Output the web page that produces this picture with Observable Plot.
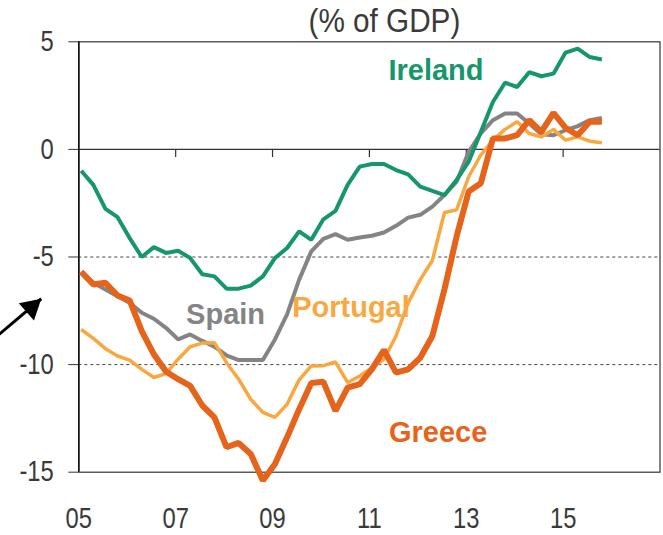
<!DOCTYPE html>
<html>
<head>
<meta charset="utf-8">
<script src="https://cdn.jsdelivr.net/npm/d3@7"></script>
<script src="https://cdn.jsdelivr.net/npm/@observablehq/plot@0.6"></script>
<style>
  html, body { margin: 0; padding: 0; background: #fff; }
  #chart svg { display: block; }
</style>
</head>
<body>
<div id="chart"></div>
<script>
// Quarterly periods 2005Q1 .. 2015Q4
const periods = d3.range(44).map(i => `${2005 + Math.floor(i / 4)}Q${(i % 4) + 1}`);

const ireland = [-0.99, -1.65, -2.76, -3.15, -4.12, -5.0, -4.54, -4.81, -4.71, -5.05,
  -5.8, -5.9, -6.47, -6.47, -6.33, -5.9, -5.05, -4.58, -3.81, -4.2,
  -3.25, -2.86, -1.65, -0.8, -0.68, -0.68, -0.96, -1.16, -1.73, -1.93,
  -2.12, -1.42, -0.57, 0.81, 2.2, 3.1, 2.9, 3.59, 3.4, 3.52,
  4.5, 4.68, 4.29, 4.18];
const spain = [-5.69, -6.2, -6.51, -6.82, -7.13, -7.59, -7.87, -8.29, -8.83, -8.6,
  -8.9, -9.17, -9.57, -9.79, -9.79, -9.79, -8.83, -7.67, -6.05, -4.74,
  -4.16, -3.94, -4.2, -4.09, -4.01, -3.86, -3.55, -3.17, -3.04, -2.66,
  -2.12, -1.5, -0.11, 0.74, 1.36, 1.67, 1.67, 1.2, 0.7, 0.66,
  0.89, 1.08, 1.36, 1.46];
const portugal = [-8.37, -8.78, -9.26, -9.6, -9.79, -10.22, -10.6, -10.42, -9.75, -9.17,
  -9.0, -8.98, -9.91, -10.68, -11.61, -12.22, -12.45, -11.84, -10.71, -10.06,
  -10.05, -9.88, -10.83, -10.53, -10.14, -9.75, -8.67, -7.13, -6.05, -5.16,
  -2.93, -2.81, -1.27, -0.26, 0.43, 0.93, 1.28, 0.74, 0.58, 0.93,
  0.43, 0.58, 0.38, 0.31];
const greece = [-5.69, -6.28, -6.2, -6.79, -7.02, -8.44, -9.52, -10.32, -10.68, -10.99,
  -11.9, -12.45, -13.84, -13.64, -14.15, -15.39, -14.62, -13.38, -12.07, -10.85,
  -10.8, -12.15, -11.07, -10.91, -10.22, -9.32, -10.37, -10.22, -9.68, -8.67,
  -6.5, -4.05, -1.96, -1.57, 0.51, 0.51, 0.66, 1.36, 0.81, 1.7,
  1.0, 0.66, 1.28, 1.28];

const countries = ["Ireland", "Spain", "Portugal", "Greece"];
const yTicks = [5, 0, -5, -10, -15];
const yGrid = [-5, -10];
const xTicks = [2005, 2007, 2009, 2011, 2013, 2015];
const xTickLabels = ["05", "07", "09", "11", "13", "15"];
const title = "(% of GDP)";

// annotation placements (data coordinates)
const labelPos = [
  {name: "Ireland", x: 2012.375, y: 3.67},
  {name: "Spain", x: 2008.03, y: -7.67},
  {name: "Portugal", x: 2010.62, y: -7.35},
  {name: "Greece", x: 2012.42, y: -13.18}
];
const arrowPts = [{x1: 2003.3, y1: -8.7, x2: 2004.225, y2: -6.94}];

const colors = {Ireland: "#16966b", Spain: "#848484", Portugal: "#f9a83f", Greece: "#e5631a"};
const widths = {Ireland: 4, Spain: 4, Portugal: 3.5, Greece: 6};

const x = i => 2005 + (i + 0.2) / 4;
const seriesValues = {Ireland: ireland, Spain: spain, Portugal: portugal, Greece: greece};
const rows = c => seriesValues[c].map((v, i) => ({period: periods[i], t: x(i), v, c}));

const narrow = "'Liberation Sans Narrow', 'Arial Narrow', 'Liberation Sans', Arial, sans-serif";
const bold = "'Liberation Sans', Arial, sans-serif";

const drawOrder = ["Spain", "Portugal", "Ireland", "Greece"];

const chart = Plot.plot({
  width: 663,
  height: 535,
  marginTop: 41.3,
  marginBottom: 63.3,
  marginLeft: 78.3,
  marginRight: 3.5,
  style: {fontFamily: narrow, color: "#3a3a3a", background: "#fff", overflow: "visible"},
  x: {domain: [2005, 2017]},
  y: {domain: [-15, 5]},
  marks: [
    Plot.ruleY(yGrid, {stroke: "#444", strokeWidth: 1, strokeDasharray: "3,3"}),
    Plot.ruleY([0], {stroke: "#333", strokeWidth: 1.2}),
    Plot.ruleX(xTicks.slice(1), {y1: 0, y2: -0.38, stroke: "#333", strokeWidth: 1.2}),
    Plot.frame({stroke: "#333", strokeWidth: 1.2}),
    Plot.ruleX([2005], {stroke: "#111", strokeWidth: 1.6}),
    Plot.axisY({ticks: yTicks, tickSize: 10, tickPadding: 15, fontSize: 29, tickFormat: d => String(d), label: null, stroke: "#333"}),
    Plot.axisX({ticks: xTicks, tickSize: 0, tickPadding: 35, fontSize: 29, tickFormat: d => xTickLabels[xTicks.indexOf(d)], label: null}),
    ...drawOrder.map(c => Plot.line(rows(c), {x: "t", y: "v", stroke: colors[c], strokeWidth: widths[c], strokeLinejoin: "miter", strokeLinecap: "butt"})),
    Plot.text(labelPos, {x: "x", y: "y", text: "name", fill: d => colors[d.name], fontSize: 29, fontWeight: "bold", fontFamily: bold}),
    Plot.text([title], {frameAnchor: "top", text: d => d, dy: -20, dx: 15, fontSize: 33, lineAnchor: "middle", fill: "#3a3a3a"}),
    Plot.link(arrowPts, {x1: "x1", y1: "y1", x2: "x2", y2: "y2", stroke: "#000", strokeWidth: 3}),
    Plot.dot(arrowPts, {x: "x2", y: "y2", symbol: "triangle", r: 8.5, fill: "#000", rotate: 48.7, dx: -9.9, dy: 8.7})
  ]
});

// Condense the axis / title text (Arial Narrow look); country labels stay as they are
d3.select(chart).selectAll("text").each(function () {
  const t = this.textContent;
  if (countries.includes(t)) return;
  const sx = t === title ? 0.9 : 0.82;
  const el = d3.select(this);
  const tr = el.attr("transform") || "";
  el.attr("transform", `${tr} scale(${sx},1)`);
});
document.getElementById("chart").appendChild(chart);
</script>
</body>
</html>
